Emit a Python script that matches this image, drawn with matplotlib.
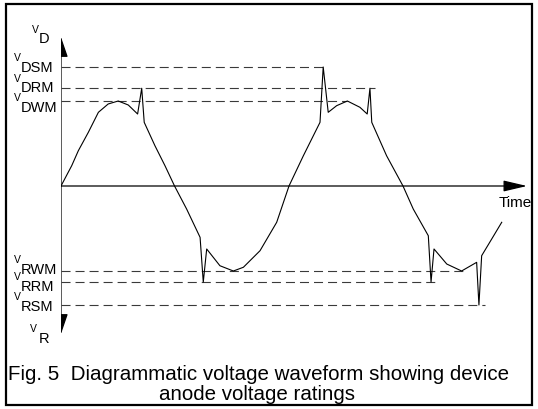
import matplotlib
matplotlib.use("Agg")
import matplotlib.pyplot as plt
from matplotlib.patches import FancyArrowPatch, Rectangle

plt.rcParams['font.family'] = ['Liberation Sans', 'DejaVu Sans']
plt.rcParams['lines.scale_dashes'] = False

#Waveform (time in periods, voltage in units of V_DWM)
waveT = [0.0, 0.047, 0.076, 0.120, 0.164, 0.207, 0.251, 0.295, 0.336, 0.354, 0.365, 0.412, 0.456, 0.498,
         0.551, 0.610, 0.624, 0.639, 0.697, 0.756, 0.800, 0.873, 0.946, 1.0,
         1.063, 1.136, 1.150, 1.172, 1.209, 1.256, 1.311, 1.343, 1.355, 1.363, 1.428, 1.5,
         1.545, 1.611, 1.623, 1.636, 1.692, 1.757, 1.823, 1.833, 1.845, 1.889, 1.933]
waveV = [0.0, 0.239, 0.415, 0.632, 0.867, 0.965, 1.0, 0.953, 0.847, 1.15, 0.749, 0.474, 0.239, 0.0,
         -0.271, -0.604, -1.13, -0.741, -0.938, -1.0, -0.956, -0.761, -0.427, 0.0,
         0.356, 0.749, 1.40, 0.867, 0.945, 1.0, 0.926, 0.847, 1.15, 0.749, 0.356, 0.0,
         -0.271, -0.585, -1.13, -0.741, -0.918, -1.0, -0.898, -1.40, -0.820, -0.624, -0.427]

#Rating levels and where each dashed line stops
levelNames = ["DSM", "DRM", "DWM", "RWM", "RRM", "RSM"]
levelValues = [1.40, 1.15, 1.0, -1.0, -1.13, -1.40]
levelEnds = [1.167, 1.377, 1.254, 1.763, 1.649, 1.860]

#Label baseline shift from its line (pixels)
labelShift = [-3.5, -3.2, -9.7, -1.6, -8.0, -5.0]

W, H = 538, 410
fig = plt.figure(figsize=(W/100, H/100), dpi=100)

def fx(x):
    return x / W

def fy(y):
    return 1 - y / H

#Axes placed so the origin sits at pixel (61, 187)
ax = fig.add_axes([fx(61), fy(335), fx(527) - fx(61), fy(38) - fy(335)])
ax.set_xlim(0, (527 - 61) / 228)
ax.set_ylim(-(335 - 187) / 85, (187 - 38) / 85)
ax.axis('off')

#Axis arrows
xmin, xmax = ax.get_xlim()
ymin, ymax = ax.get_ylim()
for end in [(0, ymax), (0, ymin)]:
    ax.add_patch(FancyArrowPatch((0, 0), end, arrowstyle='-|>,head_length=12.5,head_width=4.3',
                                 mutation_scale=1, shrinkA=0, shrinkB=0, color='black', lw=0.9))
ax.add_patch(FancyArrowPatch((0, 0), (xmax, 0), arrowstyle='-|>,head_length=14.5,head_width=3.4',
                             mutation_scale=1, shrinkA=0, shrinkB=0, color='black', lw=0.9))

#Dashed rating lines
for v, tEnd in zip(levelValues, levelEnds):
    ax.plot([0, tEnd], [v, v], color='#3a3a3a', lw=0.8, dashes=(6.5, 3.6))

ax.plot(waveT, waveV, color='black', lw=0.8)

#Level labels
for name, v, s in zip(levelNames, levelValues, labelShift):
    ax.annotate(name, xy=(20.7, v), xycoords=('figure pixels', 'data'), xytext=(0, s),
                textcoords='offset pixels', fontsize=10.5, ha='left', va='baseline')
    ax.annotate("V", xy=(14, v), xycoords=('figure pixels', 'data'), xytext=(0, s + 10.8),
                textcoords='offset pixels', fontsize=7.5, ha='left', va='baseline')

fig.text(fx(31.7), fy(33.3), "V", fontsize=7.5, va='baseline')
fig.text(fx(39), fy(43.3), "D", fontsize=10.5, va='baseline')
fig.text(fx(30), fy(332), "V", fontsize=7.5, va='baseline')
fig.text(fx(38.3), fy(343.3), "R", fontsize=10.5, va='baseline')

fig.text(fx(515), fy(207), "Time", fontsize=11, ha='center', va='baseline')

#Caption
fig.text(fx(258), fy(380), "Fig. 5  Diagrammatic voltage waveform showing device", fontsize=14.8,
         ha='center', va='baseline')
fig.text(fx(257), fy(400), "anode voltage ratings", fontsize=14.8, ha='center', va='baseline')

#Frame around the figure
fig.patches.append(Rectangle((fx(6), fy(406)), fx(532) - fx(6), fy(5) - fy(406), transform=fig.transFigure,
                             fill=False, edgecolor='black', lw=1.6))

fig.savefig("out.png", dpi=100)
